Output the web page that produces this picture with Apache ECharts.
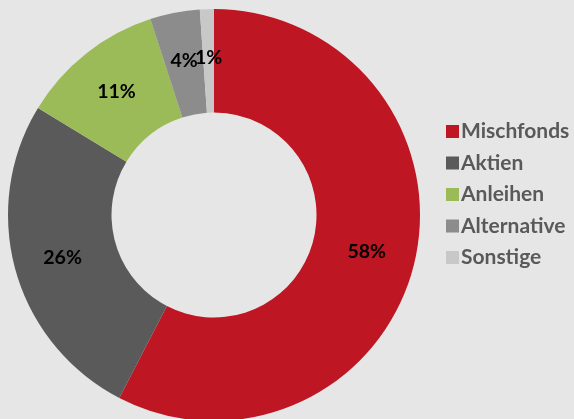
<!DOCTYPE html>
<html><head><meta charset="utf-8">
<script src="https://cdn.jsdelivr.net/npm/echarts@6/dist/echarts.min.js"></script>
<style>html,body{margin:0;padding:0;background:#e6e6e6;}#c{width:574px;height:419px;}</style>
</head><body><div id="c"></div>
<script>
const categories = ["Mischfonds", "Aktien", "Anleihen", "Alternative", "Sonstige"];
const values = [57.6, 26.1, 11.3, 3.9, 1.1];
const colors = ["#be1622", "#5a5a5a", "#9bbb59", "#8c8c8c", "#c8c8c8"];

const chart = echarts.init(document.getElementById('c'));
chart.setOption({
  backgroundColor: '#e6e6e6',
  animation: false,
  color: colors,
  legend: {
    orient: 'vertical',
    left: 441, top: 116,
    itemWidth: 13, itemHeight: 13, itemGap: 10.5,
    icon: 'rect',
    textStyle: { fontFamily: 'Lato', fontWeight: 'bold', fontSize: 21, lineHeight: 20, color: '#595959', padding: [0,0,0,-3] },
    data: categories
  },
  series: [{
    type: 'pie',
    center: [214, 215],
    radius: [102.5, 206],
    startAngle: 90,
    clockwise: true,
    avoidLabelOverlap: false,
    label: {
      position: 'inside',
      rotate: 0,
      formatter: p => Math.round(p.value) + '%',
      fontFamily: 'Lato', fontWeight: 'bold', fontSize: 19.5, color: '#000'
    },
    labelLayout: { hideOverlap: false },
    labelLine: { show: false },
    itemStyle: { borderWidth: 0 },
    emphasis: { disabled: true },
    data: categories.map((c, i) => ({ name: c, value: values[i] }))
  }]
});
</script></body></html>
